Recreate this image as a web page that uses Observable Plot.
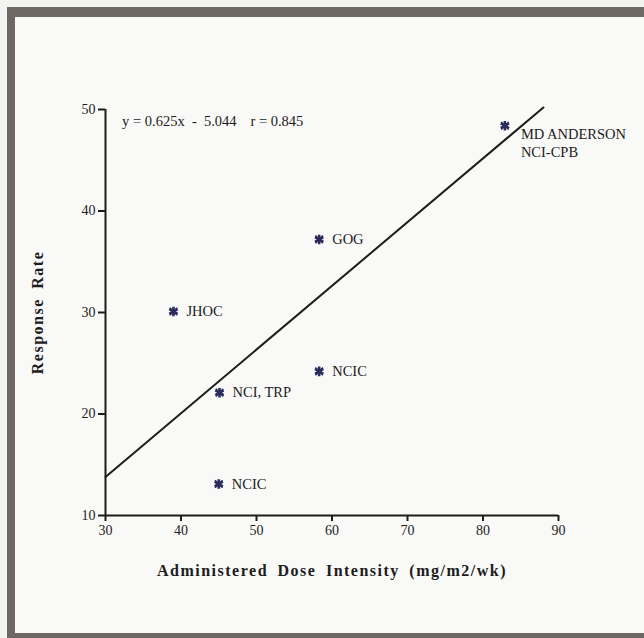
<!DOCTYPE html>
<html>
<head>
<meta charset="utf-8">
<script src="https://cdn.jsdelivr.net/npm/d3@7"></script>
<script src="https://cdn.jsdelivr.net/npm/@observablehq/plot@0.6"></script>
<style>
  html, body { margin: 0; padding: 0; background: #f3f3f1; }
  #wrap { position: relative; width: 644px; height: 638px; overflow: hidden; }
  #frame {
    position: absolute; left: 7px; top: 7px; width: 680px; height: 640px;
    box-sizing: border-box; background: #f9f9f7;
    border-left: 8px solid #6f6763; border-top: 10px solid #6f6763; border-bottom: 14px solid #6f6763;
  }
  #chart { position: absolute; left: 0; top: 0; }
  #chart svg { background: transparent; }
</style>
</head>
<body>
<div id="wrap"><div id="frame"></div><div id="chart"></div></div>
<script>
// Data
const studies = ["JHOC", "NCI, TRP", "NCIC", "GOG", "NCIC", "MD ANDERSON\nNCI-CPB"];
const doseIntensity = [39.0, 45.1, 45.0, 58.3, 58.3, 82.9];
const responseRate = [30.1, 22.1, 13.1, 37.2, 24.2, 48.4];
const fitX = [30, 88];
const fitY = [13.8, 50.2];
const xTicks = [30, 40, 50, 60, 70, 80, 90];
const yTicks = [10, 20, 30, 40, 50];
const equationText = "y = 0.625x  -  5.044";
const rText = "r = 0.845";
const xTitle = "Administered Dose Intensity (mg/m2/wk)";
const yTitle = "Response Rate";

const points = studies.map((s, i) => ({study: s, x: doseIntensity[i], y: responseRate[i]}));
const single = points.filter(d => !d.study.includes("\n"));
const multi = points.filter(d => d.study.includes("\n"));
const fit = fitX.map((x, i) => ({x, y: fitY[i]}));

const ink = "#1c1c1c";
const starColor = "#2b2b5c";

const chart = Plot.plot({
  width: 644,
  height: 638,
  marginLeft: 105,
  marginRight: 86,
  marginTop: 109,
  marginBottom: 123,
  style: {fontFamily: "'Liberation Serif', 'DejaVu Serif', serif", fontSize: "14px", color: ink, background: "transparent"},
  x: {domain: [30, 90]},
  y: {domain: [10, 50]},
  marks: [
    Plot.axisX({ticks: xTicks, tickSize: 6, tickPadding: 4, strokeWidth: 2, label: null, fontSize: 14}),
    Plot.axisY({ticks: yTicks, tickSize: 7, tickPadding: 3, strokeWidth: 2, label: null, fontSize: 14}),
    Plot.ruleY([10], {stroke: ink, strokeWidth: 2}),
    Plot.ruleX([30], {stroke: ink, strokeWidth: 2}),
    Plot.line(fit, {x: "x", y: "y", stroke: ink, strokeWidth: 2}),
    Plot.dot(points, {x: "x", y: "y", symbol: "asterisk", r: 4.5, stroke: starColor, strokeWidth: 2.6}),
    Plot.dot(points, {x: "x", y: "y", symbol: "times", r: 3.5, stroke: starColor, strokeWidth: 1.6}),
    Plot.text(single, {x: "x", y: "y", text: "study", textAnchor: "start", dx: 13, fontSize: 14.5, fill: ink}),
    Plot.text(multi, {x: "x", y: "y", text: "study", textAnchor: "start", dx: 16, lineAnchor: "top", dy: 0, lineHeight: 1.25, fontSize: 14.5, fill: ink}),
    Plot.text([equationText], {x: 32.2, y: 48.8, textAnchor: "start", fontSize: 14.5, fill: ink}),
    Plot.text([rText], {x: 49.2, y: 48.8, textAnchor: "start", fontSize: 14.5, fill: ink}),
    Plot.text([xTitle], {frameAnchor: "bottom", textAnchor: "middle", lineAnchor: "middle", dy: 55, fontSize: 16, fontWeight: "bold", fill: ink}),
    Plot.text([yTitle], {frameAnchor: "left", textAnchor: "middle", lineAnchor: "middle", dx: -68, rotate: -90, fontSize: 16, fontWeight: "bold", fill: ink})
  ]
});

d3.select(chart).selectAll("text")
  .filter(function() { const t = this.textContent; return t === xTitle || t === yTitle; })
  .attr("letter-spacing", "1.5px")
  .attr("word-spacing", "4px");
d3.select(chart).selectAll("text")
  .filter(function() { return this.textContent === equationText; })
  .attr("xml:space", "preserve").style("white-space", "pre");

document.getElementById("chart").appendChild(chart);
</script>
</body>
</html>
